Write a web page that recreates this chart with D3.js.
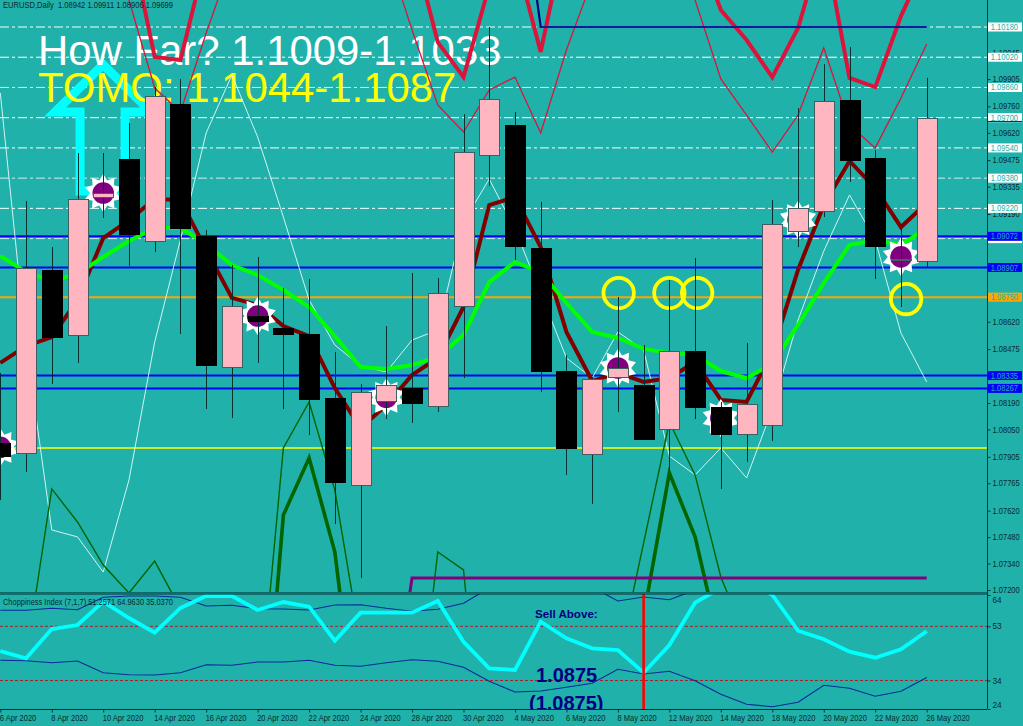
<!DOCTYPE html>
<html><head><meta charset="utf-8">
<script src="https://cdn.jsdelivr.net/npm/d3@7"></script>
<style>html,body{margin:0;padding:0;background:#20B2AA;overflow:hidden}svg{display:block}text{font-family:"Liberation Sans",Arial,sans-serif}</style>
</head><body><svg id="c" width="1023" height="726"></svg>
<script>
const dates=["6 Apr 2020","7 Apr 2020","8 Apr 2020","9 Apr 2020","10 Apr 2020","13 Apr 2020","14 Apr 2020","15 Apr 2020","16 Apr 2020","17 Apr 2020","20 Apr 2020","21 Apr 2020","22 Apr 2020","23 Apr 2020","24 Apr 2020","27 Apr 2020","28 Apr 2020","29 Apr 2020","30 Apr 2020","1 May 2020","4 May 2020","5 May 2020","6 May 2020","7 May 2020","8 May 2020","11 May 2020","12 May 2020","13 May 2020","14 May 2020","15 May 2020","18 May 2020","19 May 2020","20 May 2020","21 May 2020","22 May 2020","25 May 2020","26 May 2020"];
const open =[1.07978,1.07925,1.08894,1.0855,1.0928,1.09481,1.09047,1.09772,1.09074,1.0838,1.0865,1.08587,1.08555,1.08216,1.07756,1.0820,1.08269,1.08174,1.08703,1.09502,1.09661,1.0901,1.08359,1.0792,1.08327,1.08285,1.08052,1.08465,1.08169,1.08026,1.08073,1.091,1.09206,1.09794,1.09487,1.08947,1.08942];
const close=[1.07909,1.08904,1.08539,1.0927,1.09301,1.09084,1.09815,1.09116,1.08391,1.08703,1.08624,1.08555,1.08211,1.07772,1.08248,1.08285,1.0819,1.08772,1.09518,1.09799,1.09021,1.08359,1.07952,1.08317,1.08375,1.07999,1.08465,1.08169,1.08026,1.08184,1.09137,1.09222,1.09788,1.09476,1.09021,1.08952,1.09699];
const high =[1.08349,1.09259,1.09015,1.09513,1.09513,1.09672,1.09862,1.09905,1.09105,1.0892,1.08963,1.08798,1.08846,1.0846,1.0829,1.08597,1.08878,1.08851,1.09719,1.1018,1.0973,1.09254,1.08444,1.08327,1.08751,1.08497,1.08841,1.08957,1.08195,1.08507,1.09264,1.09751,1.09984,1.10074,1.09529,1.09116,1.09911];
const low  =[1.07676,1.07825,1.0829,1.08402,1.09169,1.08915,1.08989,1.08555,1.08158,1.0811,1.08402,1.08158,1.0802,1.07549,1.07264,1.08105,1.08084,1.08142,1.08322,1.09338,1.08947,1.08248,1.07809,1.07655,1.08142,1.07999,1.07835,1.08105,1.07735,1.07878,1.07989,1.09015,1.09174,1.0936,1.08846,1.08698,1.08906];
const maFast=[1.08402,1.08491,1.08539,1.08735,1.09063,1.09158,1.0927,1.09264,1.0900,1.08746,1.08709,1.08597,1.08544,1.08269,1.08057,1.08179,1.08338,1.08428,1.08698,1.09238,1.0928,1.09015,1.08566,1.08306,1.08349,1.08301,1.08322,1.08407,1.08206,1.08195,1.0846,1.08894,1.09238,1.09471,1.09328,1.09121,1.09248];
const maSlow=[1.08968,1.08883,1.08836,1.08873,1.08963,1.09047,1.09116,1.09116,1.09031,1.0892,1.08867,1.08788,1.08698,1.08544,1.0838,1.0837,1.08391,1.08433,1.0855,1.0883,1.08936,1.08883,1.08719,1.08566,1.08534,1.08476,1.08454,1.08444,1.08359,1.08322,1.08396,1.08603,1.08825,1.09026,1.09053,1.09026,1.09116];
const whiteBand=[1.09831,1.08497,1.07518,1.07481,1.07295,1.07782,1.08513,1.09053,1.09619,1.09926,1.09598,1.09174,1.08735,1.08497,1.08386,1.08354,1.08523,1.08576,1.09148,1.09375,1.09111,1.08772,1.08428,1.08322,1.08566,1.0847,1.07909,1.07809,1.07952,1.07793,1.08158,1.08629,1.08994,1.09291,1.09053,1.0856,1.08301];
const crimsonThin=[1.1085,1.1085,1.1085,1.1085,1.1085,1.10323,1.09857,1.0973,1.10148,1.10535,1.10746,1.10746,1.10746,1.10746,1.10746,1.10588,1.10164,1.09767,1.09624,1.09847,1.09915,1.09619,1.10058,1.10429,1.10746,1.10746,1.10746,1.10323,1.09905,1.09714,1.09518,1.09714,1.10069,1.09661,1.0954,1.09804,1.1009];
const crimsonThick=[1.10852,1.10852,1.10852,1.10852,1.10852,1.10672,1.10021,1.10005,1.10556,1.10852,1.10852,1.10852,1.10852,1.10852,1.10852,1.10852,1.1063,1.101,1.09915,1.10397,1.10566,1.10048,1.10693,1.10852,1.10852,1.10852,1.10852,1.1064,1.1027,1.10111,1.09915,1.10175,1.1064,1.0991,1.09862,1.10238,1.10535];
const greenThin=[1.06618,1.0684,1.07735,1.0756,1.07332,1.07184,1.07353,1.071,1.06882,1.06618,1.06475,1.07952,1.08195,1.07729,1.06914,1.06618,1.06221,1.07401,1.07306,1.05951,1.06088,1.06088,1.06088,1.06088,1.06814,1.07449,1.08089,1.07809,1.07269,1.06935,1.06088,1.06088,1.06088,1.06088,1.06088,1.06088,1.06088];
const greenThick=[1.06088,1.06088,1.06088,1.06088,1.06088,1.06088,1.06088,1.06088,1.06088,1.06088,1.05956,1.07597,1.07899,1.07401,1.063,1.06088,1.06088,1.06088,1.06088,1.06088,1.06088,1.06088,1.06088,1.06088,1.06088,1.07062,1.07819,1.07481,1.06893,1.06088,1.06088,1.06088,1.06088,1.06088,1.06088,1.06088,1.06088];
const navyStepBars=[20,21,36], navyStepVals=[1.11175,1.1018,1.1018];
const purpleStepBars=[15,16,36], purpleStepVals=[1.06327,1.07264,1.07264];
const chopCyan=[44.35,41.79,52.07,53.47,61.65,55.93,50.77,59.44,63.65,63.65,58.74,61.54,59.89,47.96,57.79,57.79,57.79,61.89,47.61,38.28,37.68,54.63,48.81,45.30,44.70,36.74,46.46,61.30,66.46,69.26,64.0,51.47,48.46,44.11,42.0,44.95,51.26];
const chopLower=[41.09,40.95,40.25,40.84,36.74,36.04,35.93,36.74,39.54,39.33,40.49,40.49,41.09,39.33,38.98,40.25,41.30,40.74,38.63,33.72,29.96,30.32,31.61,33.02,37.93,36.28,37.23,33.93,29.16,25.65,24.81,26.35,32.32,31.26,28.46,30.21,35.04];
const chopUpper=[58.63,58.63,59.33,58.84,63.19,63.65,63.65,63.19,60.14,60.39,59.19,59.09,58.74,60.49,60.60,59.33,58.28,58.98,61.09,66.46,70.0,69.7,68.4,66.8,61.89,63.30,62.35,65.75,70.8,74.3,75.2,73.6,67.7,68.7,71.5,69.8,64.96];
const dateTickBars=[0,2,4,6,8,10,12,14,16,18,20,22,24,26,28,30,32,34,36];
const priceTicks=[1.07200,1.07340,1.07480,1.07620,1.07765,1.07905,1.08050,1.08190,1.08475,1.08620,1.09190,1.09335,1.09475,1.09620,1.09760,1.09905,1.10045];
const whiteLevels=[1.1018,1.1002,1.0986,1.0970,1.0954,1.0938,1.0922];
const whiteLevelColours=["#f4ffff","#ffffff","#cdeee9","#ffffff","#f4ffff","#cdeee9","#f4ffff"];
const hiddenLevel=1.0906;
const blueLevels=[1.09072,1.08907,1.08335,1.08267];
const orangeLevel=1.0875, yellowLevel=1.07952;
const starBars=[0,4,10,15,24,28,31,35];
const starPrices=[1.07955,1.09301,1.0865,1.0822,1.08375,1.0811,1.0916,1.08963];
const circleBars=[24.03,26,27.08,35.2];
const circlePrices=[1.08772,1.08772,1.08772,1.0874];
const arrowBars=[3.99,2.13,3.10,3.10,4.85,4.85,5.86];
const arrowPrices=[1.09981,1.0973,1.0973,1.09312,1.09312,1.0973,1.0973];
const chopTicks=[24,34,53,64], chopLevels=[53,34];
const titleText="EURUSD,Daily  1.08942 1.09911 1.08906 1.09699";
const chopText="Choppiness Index (7,1,7) 51.2571 64.9630 35.0370";

const svg=d3.select("#c");
const W=987;
const x=d3.scaleLinear().domain([0,36]).range([0.3,926.7]);
const y=d3.scaleLinear().domain([1.072,1.1018]).range([590,27]);
const yc=d3.scaleLinear().domain([24,64]).range([709,595]);
const bars=d3.range(dates.length);
const defs=svg.append("defs");
defs.append("clipPath").attr("id","cm").append("rect").attr("x",0).attr("y",0).attr("width",W).attr("height",593);
defs.append("clipPath").attr("id","cs").append("rect").attr("x",0).attr("y",594).attr("width",W).attr("height",115);
svg.append("rect").attr("width",1023).attr("height",726).attr("fill","#20B2AA");
const m=svg.append("g").attr("clip-path","url(#cm)");
const s=svg.append("g").attr("clip-path","url(#cs)");
function squeeze(sel,f){sel.each(function(){const L=this.getComputedTextLength();d3.select(this).attr("textLength",L*f).attr("lengthAdjust","spacingAndGlyphs");});}

// horizontal levels
m.selectAll(".wl").data(whiteLevels).join("line").attr("x1",0).attr("x2",W).attr("y1",d=>y(d)).attr("y2",d=>y(d)).attr("stroke",(d,i)=>whiteLevelColours[i]).attr("stroke-width",1).attr("stroke-dasharray","9 3 3 3");
m.append("line").attr("x1",0).attr("x2",W).attr("y1",y(hiddenLevel)).attr("y2",y(hiddenLevel)).attr("stroke","#cdeee9").attr("stroke-width",1).attr("stroke-dasharray","9 3 3 3");
m.append("line").attr("x1",0).attr("x2",W).attr("y1",y(orangeLevel)).attr("y2",y(orangeLevel)).attr("stroke","#ffa500").attr("stroke-width",2);
m.append("line").attr("x1",0).attr("x2",W).attr("y1",y(yellowLevel)).attr("y2",y(yellowLevel)).attr("stroke","#ffff00").attr("stroke-width",1.6);
m.selectAll(".bl").data(blueLevels).join("line").attr("x1",0).attr("x2",W).attr("y1",d=>y(d)).attr("y2",d=>y(d)).attr("stroke","#0000ff").attr("stroke-width",2);

// arrow
const arrowLine=d3.line().x(d=>x(d[0])).y(d=>y(d[1])).curve(d3.curveLinearClosed);
m.append("path").attr("d",arrowLine(arrowBars.map((b,i)=>[b,arrowPrices[i]]))).attr("fill","none").attr("stroke","#00ffff").attr("stroke-width",9).attr("stroke-linejoin","miter").attr("stroke-miterlimit",10);

// text
m.append("text").attr("x",38).attr("y",65).attr("fill","#fff").attr("font-size",41.9).text("How Far? 1.1009-1.1033");
m.append("text").attr("x",38).attr("y",101.5).attr("fill","#ffff00").attr("font-size",41.9).text("TOMO: 1.1044-1.1087");
svg.append("text").attr("x",3).attr("y",8).attr("fill","#0a2a2a").attr("font-size",8.6).attr("xml:space","preserve").attr("textLength",170).attr("lengthAdjust","spacingAndGlyphs").text(titleText);

const line=d3.line().x((d,i)=>x(i)).y(d=>y(d));
function series(vals,col,w){m.append("path").attr("d",line(vals)).attr("fill","none").attr("stroke",col).attr("stroke-width",w).attr("stroke-linejoin","miter");}
series(whiteBand,"#e4fbf8",0.9);
series(greenThin,"#006400",1.4);
series(greenThick,"#006400",3.6);
series(crimsonThin,"#dc143c",1.3);
series(crimsonThick,"#dc143c",4);
const stepLine=d3.line().x(d=>x(d[0])).y(d=>y(d[1]));
m.append("path").attr("d",stepLine(navyStepBars.map((b,i)=>[b,navyStepVals[i]]))).attr("fill","none").attr("stroke","#000080").attr("stroke-width",2.2);
m.append("path").attr("d",stepLine(navyStepBars.slice(1).map((b,i)=>[b,navyStepVals[i+1]]))).attr("fill","none").attr("stroke","#2a4fd0").attr("stroke-width",0.7);
m.append("path").attr("d",stepLine(purpleStepBars.map((b,i)=>[b,purpleStepVals[i]]))).attr("fill","none").attr("stroke","#800080").attr("stroke-width",3);
series(maFast,"#800000",4);
series(maSlow,"#00ff00",4);

// circles
m.selectAll(".ci").data(circleBars).join("circle").attr("cx",d=>x(d)).attr("cy",(d,i)=>y(circlePrices[i])).attr("r",15.2).attr("fill","none").attr("stroke","#ffff00").attr("stroke-width",3.8);

// stars
const starPts=d3.range(20).map(k=>[k*Math.PI/10,k%2?13.2:19]);
const starPath=d3.lineRadial().angle(d=>d[0]).radius(d=>d[1]).curve(d3.curveLinearClosed)(starPts);
const sg=m.selectAll(".st").data(starBars).join("g").attr("transform",(d,i)=>`translate(${x(d)},${y(starPrices[i])})`);
sg.append("path").attr("d",starPath).attr("fill","#fff");
sg.append("circle").attr("r",10.8).attr("fill","#800080");

// candles
const cg=m.selectAll(".cd").data(bars).join("g");
cg.append("line").attr("x1",d=>Math.round(x(d))+.5).attr("x2",d=>Math.round(x(d))+.5).attr("y1",d=>y(high[d])).attr("y2",d=>y(low[d])).attr("stroke","#062f30").attr("stroke-width",1);
cg.append("rect").attr("x",d=>Math.round(x(d))-9.5).attr("width",20).attr("y",d=>Math.round(y(Math.max(open[d],close[d])))+.5).attr("height",d=>Math.max(1,Math.round(Math.abs(y(open[d])-y(close[d])))))
  .attr("fill",d=>close[d]>=open[d]?"#ffb6c1":"#000").attr("stroke",d=>close[d]>=open[d]?"#3f5f60":"#000").attr("stroke-width",1);

// sub window
s.selectAll(".cl").data(chopLevels).join("line").attr("x1",0).attr("x2",W).attr("y1",d=>yc(d)).attr("y2",d=>yc(d)).attr("stroke","#a8202c").attr("stroke-width",1).attr("stroke-dasharray","3 2");
const cline=d3.line().x((d,i)=>x(i)).y(d=>yc(d));
s.append("path").attr("d",cline(chopUpper)).attr("fill","none").attr("stroke","#0a2a9a").attr("stroke-width",1.1);
s.append("path").attr("d",cline(chopLower)).attr("fill","none").attr("stroke","#0a2a9a").attr("stroke-width",1.1);
s.append("path").attr("d",cline(chopCyan)).attr("fill","none").attr("stroke","#00ffff").attr("stroke-width",3.8);
s.append("line").attr("x1",x(25)).attr("x2",x(25)).attr("y1",594).attr("y2",709).attr("stroke","#ff0000").attr("stroke-width",2.6);
s.append("text").attr("x",535).attr("y",618).attr("fill","#000080").attr("font-size",11.6).attr("font-weight","bold").text("Sell Above:");
s.append("text").attr("x",536).attr("y",681.5).attr("fill","#000080").attr("font-size",20).attr("font-weight","bold").text("1.0875");
s.append("text").attr("x",529).attr("y",710).attr("fill","#000080").attr("font-size",20).attr("font-weight","bold").text("(1.0875)");
svg.append("text").attr("x",3).attr("y",604.5).attr("fill","#0a2a2a").attr("font-size",8.6).attr("textLength",170).attr("lengthAdjust","spacingAndGlyphs").text(chopText);

// frames
svg.append("line").attr("x1",0).attr("x2",W).attr("y1",592.5).attr("y2",592.5).attr("stroke","#0d6a68").attr("stroke-width",1);
svg.append("line").attr("x1",0).attr("x2",W+.5).attr("y1",594).attr("y2",594).attr("stroke","#06282a").attr("stroke-width",1);
svg.append("line").attr("x1",0).attr("x2",W).attr("y1",709.5).attr("y2",709.5).attr("stroke","#06282a").attr("stroke-width",1);

// axes
function styleAxis(g){g.select(".domain").attr("stroke","#06383a");g.selectAll(".tick line").attr("stroke","#06383a");g.selectAll("text").attr("fill","#0a2a2a").attr("font-family",'"Liberation Sans",Arial,sans-serif');}
const ay=svg.append("g").attr("transform",`translate(${W+.5},0)`).call(d3.axisRight(y).tickValues(priceTicks).tickFormat(d3.format(".5f")).tickSize(3).tickPadding(2));
ay.call(styleAxis); ay.select(".domain").attr("d","M0,0V594");
ay.selectAll("text").attr("font-size",8.2); squeeze(ay.selectAll("text"),.92);
const ac=svg.append("g").attr("transform",`translate(${W+.5},0)`).call(d3.axisRight(yc).tickValues(chopTicks).tickFormat(d3.format("d")).tickSize(3).tickPadding(2));
ac.call(styleAxis); ac.select(".domain").attr("d","M0,594V709");
ac.selectAll("text").attr("font-size",8.2).attr("dy",d=>d==64?"0.9em":d==24?"-0.2em":"0.32em");
const ax=svg.append("g").attr("transform","translate(0,709.5)").call(d3.axisBottom(x).tickValues(dateTickBars).tickFormat(i=>dates[i]).tickSize(3).tickPadding(3));
ax.call(styleAxis); ax.select(".domain").remove();
ax.selectAll("text").attr("font-size",8.4).attr("text-anchor","start").attr("dx",-1); squeeze(ax.selectAll("text"),.9);

// boxed price labels
function box(v,bg,label){const g=svg.append("g").attr("transform",`translate(988,${y(v)})`);
 g.append("rect").attr("x",0).attr("y",-4.5).attr("width",34).attr("height",9).attr("fill",bg);
 if(label){const t=g.append("text").attr("x",2.8).attr("y",3).attr("font-size",8.2).attr("fill","#20B2AA").text(d3.format(".5f")(v));squeeze(t,.92);}}
box(hiddenLevel,"#ffffff",false);
whiteLevels.forEach(v=>box(v,"#ffffff",true));
svg.append("line").attr("x1",988).attr("x2",1022).attr("y1",y(1.0968)).attr("y2",y(1.0968)).attr("stroke","#062f30").attr("stroke-width",1);
box(orangeLevel,"#ffa500",true);
blueLevels.forEach(v=>box(v,"#0000ff",true));
</script></body></html>
